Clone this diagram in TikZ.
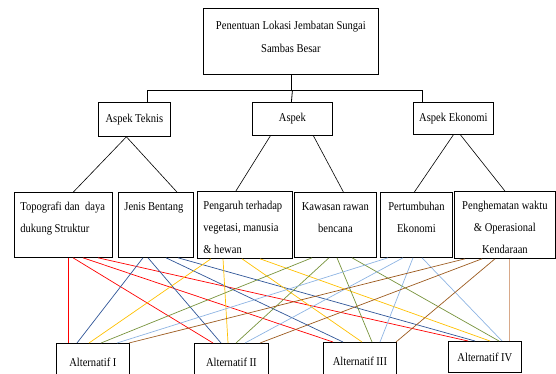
\documentclass[tikz,border=0pt]{standalone}
\usepackage{fontspec}
\setmainfont[FakeStretch=0.88]{Liberation Serif}
\usepackage{tikz}
\usetikzlibrary{positioning,calc}

\definecolor{linkred}{HTML}{FF0000}
\definecolor{linkblue}{HTML}{2F5597}
\definecolor{linkgold}{HTML}{FFC000}
\definecolor{linkolive}{HTML}{77933C}
\definecolor{linksky}{HTML}{8EB4E3}
\definecolor{linkbrown}{HTML}{9C5A1E}
\definecolor{linktan}{HTML}{D8A98A}

\newcommand{\inbox}[4]{\begin{minipage}[t][#2pt][t]{#1pt}#3\strut #4\end{minipage}}

\tikzset{
  every node/.style = {font=\fontsize{12}{22}\selectfont},
  frame/.style = {draw, line width=0.8pt, anchor=north west},
  crit/.style = {frame, inner xsep=6pt, inner ysep=3pt},
  plainbox/.style = {frame, inner sep=0pt, align=center},
  link/.style = {line width=0.7pt}
}

\begin{document}
\begin{tikzpicture}[x=1pt, y=-1pt]
    \useasboundingbox (0,0) rectangle (556,374);
    % goal
    \node[crit, inner ysep=6pt] (root) at (203,8)
      {\inbox{163}{54}{\centering\baselineskip=23pt}{Penentuan Lokasi Jembatan Sungai\\ Sambas Besar}};
    % aspects
    \node[plainbox, minimum width=72, minimum height=34] (teknis) at (98,102) {Aspek Teknis};
    \node[plainbox, minimum width=80, minimum height=33] (aspek) at (252,102) {Aspek};
    \node[plainbox, minimum width=80, minimum height=32] (ekonomi) at (413,102) {Aspek Ekonomi};
    % criteria
    \node[crit] (topo) at (14,192) {\inbox{86}{59}{\raggedright}{Topografi dan \ daya\\ dukung Struktur}};
    \node[crit] (jenis) at (118,192) {\inbox{63}{59}{\raggedright}{Jenis Bentang}};
    \node[crit] (pengaruh) at (197,191) {\inbox{83}{61}{\raggedright}{Pengaruh terhadap\\ vegetasi, manusia\\ \& hewan}};
    \node[crit] (kawasan) at (294,192) {\inbox{70}{59}{\centering}{Kawasan rawan\\ bencana}};
    \node[crit] (tumbuh) at (380,192) {\inbox{60}{59}{\centering}{Pertumbuhan\\ Ekonomi}};
    \node[crit] (hemat) at (454,191) {\inbox{89}{61}{\centering}{Penghematan waktu\\ \& Operasional\\ Kendaraan}};
    % alternatives
    \node[plainbox, minimum width=73, minimum height=37] (alt1) at (56,343) {Alternatif I};
    \node[plainbox, minimum width=74, minimum height=37] (alt2) at (194,343) {Alternatif II};
    \node[plainbox, minimum width=73, minimum height=38] (alt3) at (323,342) {Alternatif III};
    \node[plainbox, minimum width=73, minimum height=31] (alt4) at (448,341) {Alternatif IV};

    % tree
    \draw[line width=0.8pt] (root.south) -- ++(0,16) coordinate (hub);
    \draw[line width=0.8pt] ([xshift=13]teknis.north) |- (hub) -| ([xshift=-31]ekonomi.north);
    \draw[line width=0.8pt] ([xshift=-1]aspek.north) -- (aspek.north |- hub);
    \draw[line width=0.6pt] ([xshift=-8]teknis.south) -- ([xshift=10]topo.north);
    \draw[line width=0.6pt] ([xshift=-8]teknis.south) -- ([xshift=21]jenis.north);
    \draw[line width=0.6pt] ([xshift=-22]aspek.south) -- ([xshift=-9]pengaruh.north);
    \draw[line width=0.6pt] ([xshift=21]aspek.south) -- ([xshift=8]kawasan.north);
    \draw[line width=0.6pt] (ekonomi.south) -- ([xshift=-2]tumbuh.north);
    \draw[line width=0.6pt] ([xshift=7]ekonomi.south) -- (hemat.north);

    % criteria to alternatives
    \foreach \s/\t/\n in {54/12/1, 59/19/2, 69/10/3, 84/20/4}
      \draw[link, linkred] ([xshift=\s]topo.south west) -- ([xshift=\t]alt\n.north west);
    \foreach \s/\t/\n in {25/21/1, 30/27/2, 48/20/3, 60/27/4}
      \draw[link, linkblue] ([xshift=\s]jenis.south west) -- ([xshift=\t]alt\n.north west);
    \foreach \s/\t/\n in {14/33/1, 26/34/2, 45/39/3, 63/42/4}
      \draw[link, linkgold] ([xshift=\s]pengaruh.south west) -- ([xshift=\t]alt\n.north west);
    \foreach \s/\t/\n in {18/45/1, 35/42/2, 43/49/3, 58/51/4}
      \draw[link, linkolive] ([xshift=\s]kawasan.south west) -- ([xshift=\t]alt\n.north west);
    \foreach \s/\t/\n in {8/61/1, 23/51/2, 33/57/3, 42/54/4}
      \draw[link, linksky] ([xshift=\s]tumbuh.south west) -- ([xshift=\t]alt\n.north west);
    \foreach \s/\t/\n in {11/73/1, 28/66/2, 41/73/3}
      \draw[link, linkbrown] ([xshift=\s]hemat.south west) -- ([xshift=\t]alt\n.north west);
    \draw[line width=1pt, linktan] ([xshift=55]hemat.south west) -- ([xshift=61]alt4.north west);
\end{tikzpicture}
\end{document}
